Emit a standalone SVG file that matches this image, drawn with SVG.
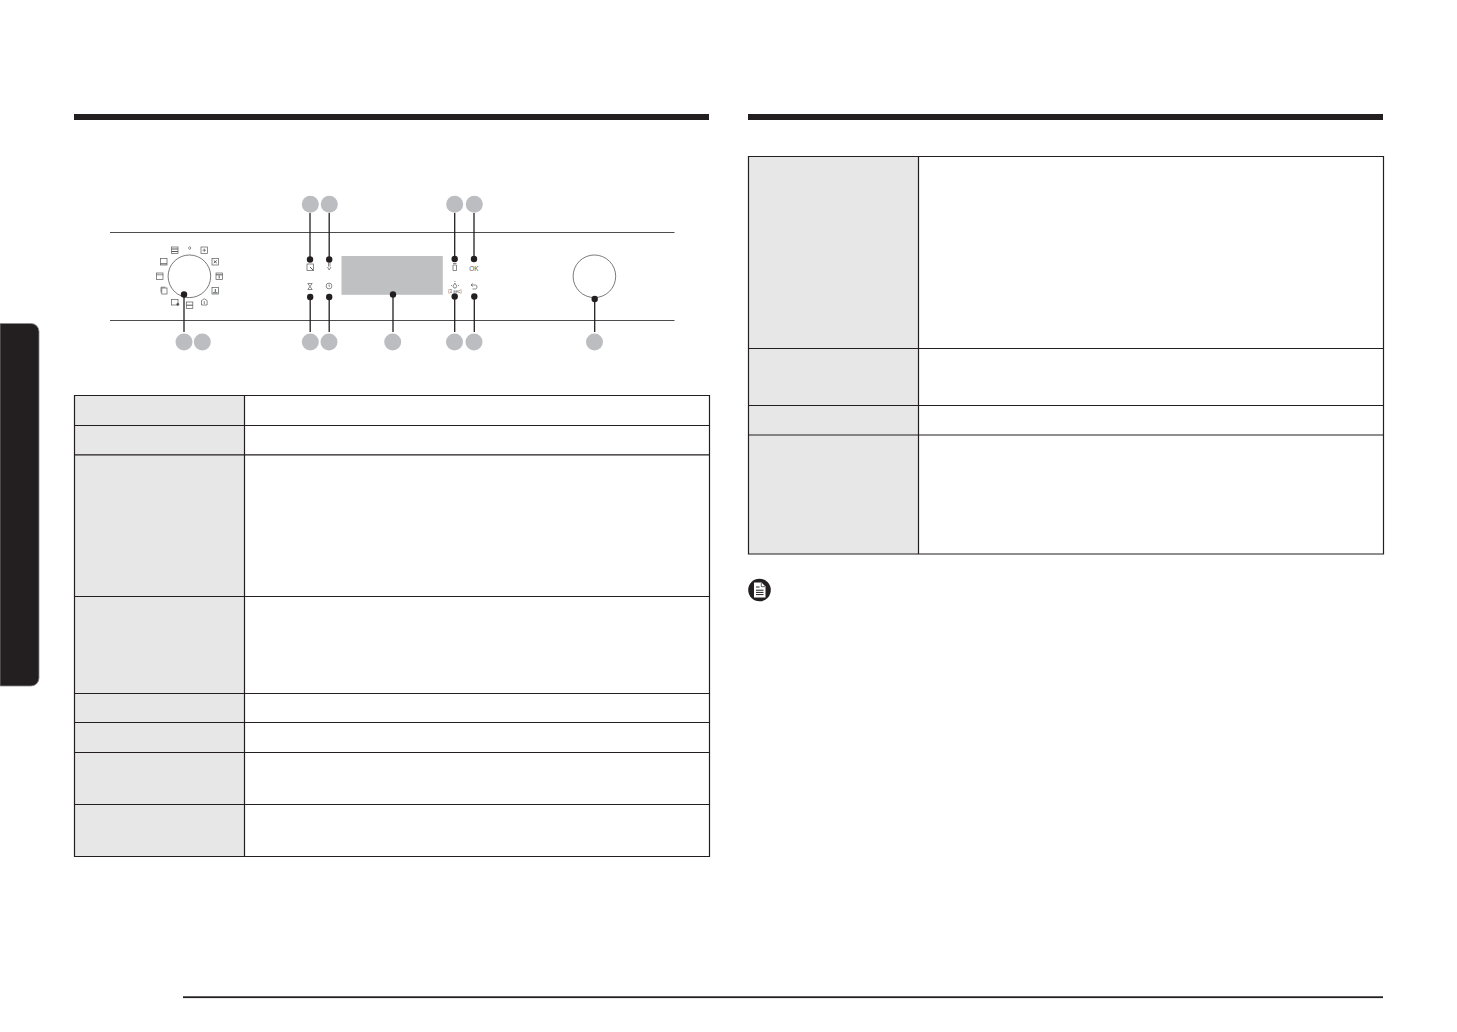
<svg xmlns="http://www.w3.org/2000/svg" width="1457" height="1032" viewBox="0 0 1457 1032">
<style>
.rule{fill:#231f20}
.hl{stroke:#4d4d4f;stroke-width:1.1;fill:none}
.cell{fill:#e7e7e8;stroke:none}
.grid{stroke:#231f20;stroke-width:1.2;fill:none}
.badge{fill:#bcbdc0}
.lead{stroke:#231f20;stroke-width:1.3;fill:none}
.dot{fill:#231f20}
.dial{fill:#fff;stroke:#414042;stroke-width:.7}
.ic{fill:none;stroke:#58595b;stroke-width:.7}
.tx{font-family:"Liberation Sans",Arial,sans-serif;fill:#58595b}
</style>
<rect width="1457" height="1032" fill="#fff"/>
<g id="page-furniture">
<rect class="rule" x="74" y="114" width="635" height="6"/>
<rect class="rule" x="748" y="114" width="635" height="6"/>
<rect class="rule" x="183" y="996.300" width="1200" height="1.800"/>
<path class="rule" d="M0 323.500H31a8 8 0 0 1 8 8V678a8 8 0 0 1-8 8H0Z" stroke="#8a8a8a" stroke-width=".8"/>
</g>
<g id="panel">
<path class="hl" d="M110 232.500H674.500M110 320.500H674.500"/>
<circle id="left-dial" class="dial" cx="189.400" cy="276.300" r="21.300"/>
<circle id="right-dial" class="dial" cx="594.400" cy="276.300" r="21.300"/>
<rect id="display" x="341.500" y="256" width="101.300" height="38.800" fill="#bfc0c2"/>
</g>
<g id="dial-icons">
<g class="ic">
<rect x="171.500" y="247" width="6.500" height="6.500"/><path d="M171.500 249H178M171.500 251.500H178" stroke-width="1"/>
<path d="M189.700 246.500l1.300 1.500-1.300 1.500-1.300-1.500Z"/>
<rect x="201" y="247" width="6.500" height="6.500"/><path d="M202.500 250.200H206M204.300 248.500V252"/>
<rect x="212" y="258.500" width="6.500" height="6.500"/><path d="M213.800 260.500L216.700 263M213.800 263L216.700 260.500" stroke-width="1"/>
<rect x="216" y="273" width="6.500" height="6.500"/><path d="M216 274.800H222.500M219.200 275.500V278.500" stroke-width="1"/>
<rect x="212" y="287.500" width="6.500" height="6.500"/><path d="M213 292.800H217.500M215.300 289V292" stroke-width="1"/>
<path d="M201.500 305V300.500L204.300 298.800L207.100 300.500V305ZM204.300 301V304"/>
<rect x="186.300" y="302" width="6.500" height="6.500"/><path d="M186.300 305.200H192.800" stroke-width="1"/>
<rect x="171.500" y="299.500" width="6.500" height="5.500"/><circle cx="177.800" cy="304.300" r="1.100" fill="#414042"/>
<rect x="161.800" y="288" width="5.200" height="6"/><path d="M161 292.500V287.200H165.500"/>
<rect x="156.500" y="273" width="6.500" height="6.500"/><path d="M156.500 274.800H163"/>
<rect x="160.500" y="258.500" width="6.500" height="6.500"/><path d="M160.500 263.800H167" stroke-width="1"/>
</g>
</g>
<g id="button-icons">
<g class="ic">
<rect x="307" y="264" width="6.500" height="6.500"/><path d="M310 267L313.500 270.500" stroke-width="1"/>
<path d="M328.500 262.500V266.500M330 262.500V266.500M327.500 267L329.200 270L331 267"/>
<path d="M307.800 283.500H312.200L310 286.500L312.200 289.500H307.800L310 286.500Z"/>
<circle cx="329" cy="286" r="2.900"/><path d="M329 284.500V286.200H330"/>
<path d="M453 263.500H456.500M453 265H456.500V270.500H453Z"/>
<path d="M454.900 283L456.800 286.200L455.800 288H454L453 286.200ZM451 285.500H452M458 285.500H459M454.900 281V282"/>
<path d="M471 285H475.500Q477 285 477 287T475.500 289H472.500M471 285L472.800 283.500M471 285L472.800 286.500"/>
</g>
<text class="tx" x="474" y="270.500" font-size="6.500" text-anchor="middle">OK</text>
<text class="tx" x="455" y="293" font-size="4.500" text-anchor="middle">(3 sec)</text>
</g>
<g id="connectors">
<path class="lead" d="M184 294.500V332"/>
<path class="lead" d="M310 213V259.500"/>
<path class="lead" d="M329.200 213V259.500"/>
<path class="lead" d="M310.200 297V332"/>
<path class="lead" d="M329.200 297V332"/>
<path class="lead" d="M393 294.500V332"/>
<path class="lead" d="M454.700 213V259"/>
<path class="lead" d="M474 213V259"/>
<path class="lead" d="M454.700 296.500V332"/>
<path class="lead" d="M474.300 296.500V332"/>
<path class="lead" d="M594.700 299V332"/>
<g class="dot">
<circle cx="184" cy="294.500" r="3.200"/>
<circle cx="310" cy="259.500" r="3.200"/><circle cx="329.200" cy="259.500" r="3.200"/>
<circle cx="310.200" cy="297" r="3.200"/><circle cx="329.200" cy="297" r="3.200"/>
<circle cx="393" cy="294.500" r="3.200"/>
<circle cx="454.700" cy="259" r="3.200"/><circle cx="474" cy="259" r="3.200"/>
<circle cx="454.700" cy="296.500" r="3.200"/><circle cx="474.300" cy="296.500" r="3.200"/>
<circle cx="594.700" cy="299" r="3.200"/>
</g>
</g>
<g id="callouts">
<circle id="c-top-1" class="badge" cx="310.300" cy="204.300" r="8.500"/>
<circle id="c-top-2" class="badge" cx="329.300" cy="204.300" r="8.500"/>
<circle id="c-top-3" class="badge" cx="454.700" cy="204.300" r="8.500"/>
<circle id="c-top-4" class="badge" cx="474.300" cy="204.300" r="8.500"/>
<circle id="c-bot-1" class="badge" cx="184" cy="342" r="8.500"/>
<circle id="c-bot-2" class="badge" cx="202.300" cy="342" r="8.500"/>
<circle id="c-bot-3" class="badge" cx="310.300" cy="342" r="8.500"/>
<circle id="c-bot-4" class="badge" cx="329" cy="342" r="8.500"/>
<circle id="c-bot-5" class="badge" cx="392.700" cy="342" r="8.500"/>
<circle id="c-bot-6" class="badge" cx="454.500" cy="342" r="8.500"/>
<circle id="c-bot-7" class="badge" cx="474" cy="342" r="8.500"/>
<circle id="c-bot-8" class="badge" cx="594.500" cy="342" r="8.500"/>
</g>
<g id="left-table">
<rect class="cell" x="74.500" y="395.500" width="170" height="461"/>
<path class="grid" d="M74.500 395.500H709.500V856.500H74.500ZM244.500 395.500V856.500M74.500 425.500H709.500M74.500 454.800H709.500M74.500 596.500H709.500M74.500 693.500H709.500M74.500 722.500H709.500M74.500 752.500H709.500M74.500 804.500H709.500"/>
</g>
<g id="right-table">
<rect class="cell" x="748.500" y="156.500" width="170" height="397.500"/>
<path class="grid" d="M748.500 156.500H1383.500V554H748.500ZM918.500 156.500V554M748.500 348.500H1383.500M748.500 405.500H1383.500M748.500 435H1383.500"/>
</g>
<g id="note-icon">
<circle cx="759.500" cy="590" r="11.300" fill="#231f20"/>
<path d="M754 582.500H761.500L765.500 586.500V597.500H754Z" fill="#fff"/>
<path d="M756 587H759.500M756 590.200H763.500M756 592.400H763.500M756 594.600H763.500" stroke="#231f20" stroke-width="1"/>
<path d="M761.300 583V586.700H765" fill="none" stroke="#231f20" stroke-width=".7"/>
</g>
</svg>
